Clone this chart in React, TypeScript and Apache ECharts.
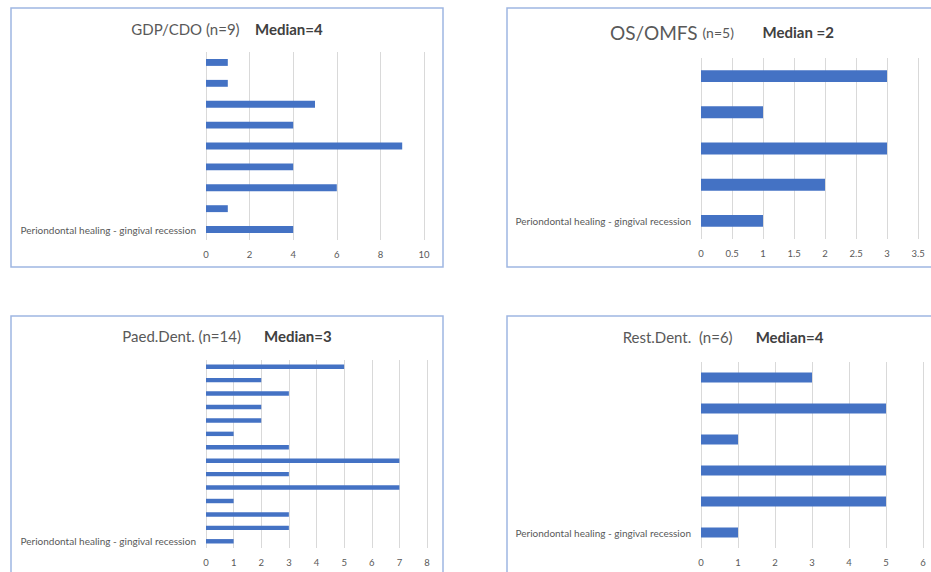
import React, { useEffect, useRef } from "react";
import * as echarts from "echarts";

const FONT = "Lato, 'Open Sans', sans-serif";

const labelText = "Periondontal healing - gingival recession";

// Categories listed bottom-to-top (Excel order); only the first label is visible.
const gdpCategories = [labelText, "", "", "", "", "", "", "", ""];
const gdpValues = [4, 1, 6, 4, 9, 4, 5, 1, 1];

const osCategories = [labelText, "", "", "", ""];
const osValues = [1, 2, 3, 1, 3];

const paedCategories = [labelText, "", "", "", "", "", "", "", "", "", "", "", "", ""];
const paedValues = [1, 3, 3, 1, 7, 3, 7, 3, 1, 2, 2, 3, 2, 5];

const restCategories = [labelText, "", "", "", "", ""];
const restValues = [1, 5, 5, 1, 5, 3];

const gdpTicks = { min: 0, max: 10, interval: 2 };
const osTicks = { min: 0, max: 3.5, interval: 0.5 };
const paedTicks = { min: 0, max: 8, interval: 1 };
const restTicks = { min: 0, max: 6, interval: 1 };

const BAR = "#4472C4";
const GRID_LINE = "#D9D9D9";
const TEXT = "#595959";
const BORDER = "#9FB6E2";

function valueAxis(gridIndex: number, t: { min: number; max: number; interval: number }) {
  return {
    type: "value",
    gridIndex,
    min: t.min,
    max: t.max,
    interval: t.interval,
    axisLine: { show: false },
    axisTick: { show: false },
    splitLine: { show: true, lineStyle: { color: GRID_LINE, width: 1 } },
    axisLabel: { color: TEXT, fontSize: 9.5, fontFamily: FONT, margin: 9 },
  };
}

function catAxis(gridIndex: number, data: string[]) {
  return {
    type: "category",
    gridIndex,
    data,
    axisLine: { show: false },
    axisTick: { show: false },
    axisLabel: { interval: 0, color: TEXT, fontSize: 10, fontFamily: FONT, margin: 10 },
  };
}

function barSeries(idx: number, data: number[]) {
  return {
    type: "bar",
    xAxisIndex: idx,
    yAxisIndex: idx,
    data,
    barWidth: "33%",
    itemStyle: { color: BAR },
  };
}

function titleText(x: number, y: number, text: string, rich: any) {
  return {
    type: "text",
    x,
    y,
    style: {
      text,
      rich,
      align: "center",
      verticalAlign: "middle",
      fontFamily: FONT,
      fill: TEXT,
    },
  };
}

function border(x: number, y: number, w: number, h: number) {
  return {
    type: "rect",
    shape: { x, y, width: w, height: h },
    style: { fill: "none", stroke: BORDER, lineWidth: 1.5 },
    silent: true,
  };
}

export default function App() {
  const ref = useRef<HTMLDivElement>(null);

  useEffect(() => {
    if (!ref.current) return;
    const chart = echarts.init(ref.current, undefined, { renderer: "svg" });
    const richBase = {
      a: { fontSize: 15, fill: TEXT, fontFamily: FONT },
      big: { fontSize: 19, fill: TEXT, fontFamily: FONT },
      s: { fontSize: 14, fill: TEXT, fontFamily: FONT },
      b: { fontSize: 15, fill: "#404040", fontWeight: "bold", fontFamily: FONT },
    };
    const option: any = {
      animation: false,
      backgroundColor: "#ffffff",
      grid: [
        { left: 206, top: 52, width: 218, height: 188 },
        { left: 701, top: 58, width: 217, height: 181 },
        { left: 206, top: 360, width: 221, height: 188 },
        { left: 701, top: 362, width: 222, height: 186 },
      ],
      xAxis: [
        valueAxis(0, gdpTicks),
        valueAxis(1, osTicks),
        valueAxis(2, paedTicks),
        valueAxis(3, restTicks),
      ],
      yAxis: [
        catAxis(0, gdpCategories),
        catAxis(1, osCategories),
        catAxis(2, paedCategories),
        catAxis(3, restCategories),
      ],
      series: [
        barSeries(0, gdpValues),
        barSeries(1, osValues),
        barSeries(2, paedValues),
        barSeries(3, restValues),
      ],
      graphic: [
        border(11, 8, 432, 259),
        border(507, 8, 440, 259),
        border(11, 316, 432, 300),
        border(507, 316, 440, 300),
        titleText(227, 29, "{a|GDP/CDO (n=9)    }{b|Median=4}", richBase),
        titleText(722, 32, "{big|OS/OMFS }{s|(n=5)        }{b|Median =2}", richBase),
        titleText(227, 336, "{a|Paed.Dent. (n=14)      }{b|Median=3}", richBase),
        titleText(723, 337, "{a|Rest.Dent.  (n=6)      }{b|Median=4}", richBase),
      ],
    };
    chart.setOption(option);
    return () => chart.dispose();
  }, []);

  return (
    <div
      ref={ref}
      style={{ position: "absolute", left: 0, top: 0, width: 931, height: 572 }}
    />
  );
}
